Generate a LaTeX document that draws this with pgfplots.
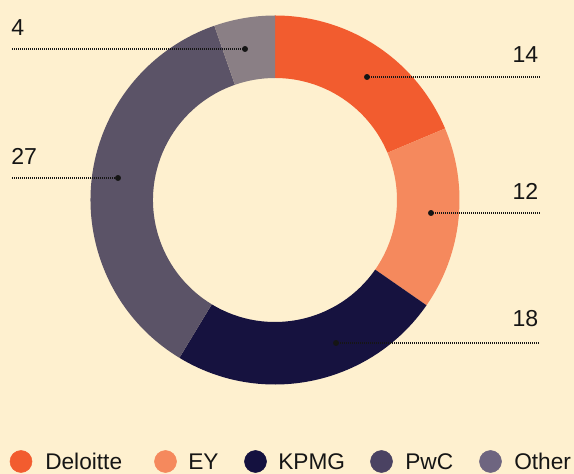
\documentclass[border=0pt]{standalone}
\usepackage{pgfplots}
\pgfplotsset{compat=1.18}
\usepackage{pgfplotstable}
\usepackage{fontspec}
\setmainfont{Liberation Sans}
\definecolor{bg}{HTML}{FEF0CF}
\definecolor{slice0}{HTML}{F25C2F}
\definecolor{slice1}{HTML}{F5895D}
\definecolor{slice2}{HTML}{16123F}
\definecolor{slice3}{HTML}{5B5367}
\definecolor{slice4}{HTML}{8A7F85}
\definecolor{leg0}{HTML}{F25C2F}
\definecolor{leg1}{HTML}{F5895D}
\definecolor{leg2}{HTML}{14113F}
\definecolor{leg3}{HTML}{4A4262}
\definecolor{leg4}{HTML}{6E6580}
\definecolor{ink}{HTML}{151515}

\pgfplotstableread{
name value
Deloitte 14
EY 12
KPMG 18
PwC 27
Other 4
}\shares

\pgfplotstableread{
x y
367 397
431 261
336 131
118 296
245 425
}\leaderpts

\newcommand{\lbl}{\fontsize{17.3}{20}\selectfont}
\newcommand{\legf}{\fontsize{17}{20}\selectfont}

\begin{document}
\begin{tikzpicture}
% total and cumulative angles from the table
\gdef\total{0}
\foreach \i in {0,...,4}{%
  \pgfplotstablegetelem{\i}{value}\of\shares
  \pgfmathsetmacro\t{\total+\pgfplotsretval}%
  \global\let\total\t
}
\pgfmathsetmacro\deg{360/\total}
\global\let\degper\deg
\gdef\cum{0}
\foreach \i in {0,...,4}{%
  \pgfplotstablegetelem{\i}{value}\of\shares
  \let\v\pgfplotsretval
  \pgfmathsetmacro\a{90-\cum*\degper}%
  \pgfmathsetmacro\b{90-(\cum+\v)*\degper}%
  \expandafter\xdef\csname sa\i\endcsname{\a}%
  \expandafter\xdef\csname sb\i\endcsname{\b}%
  \pgfmathsetmacro\c{\cum+\v}%
  \global\let\cum\c
}
\begin{axis}[x=0.75pt,y=0.75pt,xmin=0,xmax=574,ymin=0,ymax=474,
  hide axis,clip=false,
  leader/.style={ink,line width=0.8pt,dash pattern=on 0.75pt off 0.75pt}]
\fill[bg] (axis cs:0,0) rectangle (axis cs:574,474);
\pgfplotsinvokeforeach{0,...,4}{%
  \fill[slice#1] (axis cs:{275+184.5*cos(\csname sa#1\endcsname)},{274+184.5*sin(\csname sa#1\endcsname)})
    arc[start angle=\csname sa#1\endcsname, end angle=\csname sb#1\endcsname, radius=138.375pt]
    -- (axis cs:{275+122*cos(\csname sb#1\endcsname)},{274+122*sin(\csname sb#1\endcsname)})
    arc[start angle=\csname sb#1\endcsname, end angle=\csname sa#1\endcsname, radius=91.5pt]
    -- cycle;
}
% leader lines
\addplot[leader] coordinates {(367,397) (540,397)};
\addplot[leader] coordinates {(431,261) (540,261)};
\addplot[leader] coordinates {(336,131) (540,131)};
\addplot[leader] coordinates {(12,296) (118,296)};
\addplot[leader] coordinates {(12,425) (245,425)};
\addplot[only marks, mark=*, mark size=2pt, ink] table[x=x,y=y] {\leaderpts};
% value labels
\node[anchor=base east,font=\lbl,text=ink,inner sep=0pt] at (axis cs:538.5,411) {14};
\node[anchor=base east,font=\lbl,text=ink,inner sep=0pt] at (axis cs:538.5,274) {12};
\node[anchor=base east,font=\lbl,text=ink,inner sep=0pt] at (axis cs:538.5,147) {18};
\node[anchor=base west,font=\lbl,text=ink,inner sep=0pt] at (axis cs:11,438) {4};
\node[anchor=base west,font=\lbl,text=ink,inner sep=0pt] at (axis cs:11,309) {27};
% legend
\addplot[only marks, mark=*, mark size=8.25pt, leg0] coordinates {(21,12.5)};
\addplot[only marks, mark=*, mark size=8.25pt, leg1] coordinates {(165.5,12.5)};
\addplot[only marks, mark=*, mark size=8.25pt, leg2] coordinates {(255.5,12.5)};
\addplot[only marks, mark=*, mark size=8.25pt, leg3] coordinates {(381.5,12.5)};
\addplot[only marks, mark=*, mark size=8.25pt, leg4] coordinates {(490.5,12.5)};
\node[anchor=base west,font=\legf,text=ink,inner sep=0pt] at (axis cs:45,4.5) {Deloitte};
\node[anchor=base west,font=\legf,text=ink,inner sep=0pt] at (axis cs:188,4.5) {EY};
\node[anchor=base west,font=\legf,text=ink,inner sep=0pt] at (axis cs:278,4.5) {KPMG};
\node[anchor=base west,font=\legf,text=ink,inner sep=0pt] at (axis cs:405,4.5) {PwC};
\node[anchor=base west,font=\legf,text=ink,inner sep=0pt] at (axis cs:514,4.5) {Other};
\end{axis}
\pgfresetboundingbox
\useasboundingbox (current axis.south west) rectangle (current axis.north east);
\end{tikzpicture}
\end{document}
